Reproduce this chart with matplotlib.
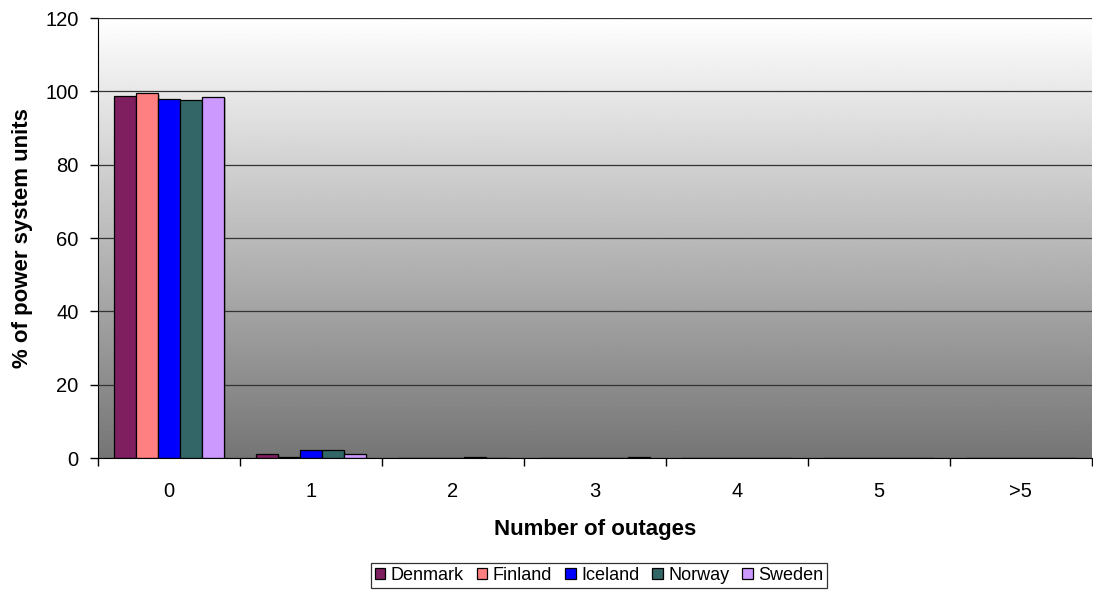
import numpy as np
from matplotlib import pyplot as plt
from matplotlib.patches import Patch

plt.rcParams["font.family"] = ["Liberation Sans", "DejaVu Sans"]

categories = ["0", "1", "2", "3", "4", "5", ">5"]
countries = ["Denmark", "Finland", "Iceland", "Norway", "Sweden"]
colors = ["#7f1f5f", "#ff8080", "#0000ff", "#336666", "#cc99ff"]

denmark = [98.8, 1.2, 0, 0, 0, 0, 0]
finland = [99.5, 0.4, 0, 0, 0, 0, 0]
iceland = [97.9, 2.1, 0, 0, 0, 0, 0]
norway = [97.6, 2.1, 0.2, 0, 0, 0, 0]
sweden = [98.5, 1.2, 0, 0.2, 0, 0, 0]
series = [denmark, finland, iceland, norway, sweden]

fig = plt.figure(figsize=(10.93, 5.90), dpi=100)
ax = fig.add_axes([98 / 1093, 1 - 458 / 590, 1 - 98 / 1093 - 0.001, (458 - 18) / 590])

# vertical gradient background, white at top to grey at bottom
grad = np.linspace(1.0, 0.46, 256).reshape(-1, 1)
ax.imshow(grad, cmap="gray", vmin=0, vmax=1, aspect="auto",
          extent=[0, 1, 0, 1], transform=ax.transAxes, zorder=0)

x = np.arange(len(categories))
w = 0.155
for i, (vals, c, name) in enumerate(zip(series, colors, countries)):
    offs = (i - 2) * w
    # faint shadow
    ax.bar(x + offs + 0.012, vals, w, bottom=-0.4, color="#555555", alpha=0.35,
           zorder=2, linewidth=0)
    ax.bar(x + offs, vals, w, color=c, edgecolor="black", linewidth=0.9,
           zorder=3, label=name)

ax.set_xlim(-0.5, len(categories) - 0.5)
ax.set_ylim(0, 120)
ax.set_yticks(range(0, 121, 20))
ax.yaxis.grid(True, color="#333333", linewidth=0.9, zorder=1)
ax.set_axisbelow(False)
for gl in ax.get_ygridlines():
    gl.set_zorder(1)

ax.set_xticks(x)
ax.set_xticklabels(categories)
ax.set_xticks(np.arange(-0.5, len(categories), 1), minor=True)
ax.tick_params(axis="x", which="major", length=0, pad=17, labelsize=14.5)
ax.tick_params(axis="x", which="minor", length=6, width=1, color="black")
ax.tick_params(axis="y", length=6, width=1, labelsize=14.5, pad=8)

ax.spines["top"].set_visible(False)
ax.spines["right"].set_visible(False)
ax.spines["left"].set_color("black")
ax.spines["bottom"].set_color("black")
ax.spines["bottom"].set_zorder(5)

ax.set_xlabel("Number of outages", fontsize=16, fontweight="bold", labelpad=13)
ax.set_ylabel("% of power system units", fontsize=16, fontweight="bold", labelpad=9)

handles = [Patch(facecolor=c, edgecolor="black", linewidth=0.9) for c in colors]
leg = fig.legend(handles, countries, loc="center", bbox_to_anchor=(599 / 1093, 1 - 575.5 / 590),
                 ncol=5, fontsize=13, frameon=True, fancybox=False,
                 handlelength=0.6, handleheight=0.6, handletextpad=0.3,
                 columnspacing=0.7, borderpad=0.2, borderaxespad=0)
leg.get_frame().set_edgecolor("black")
leg.get_frame().set_linewidth(0.9)

fig.savefig("out.png", dpi=100)
